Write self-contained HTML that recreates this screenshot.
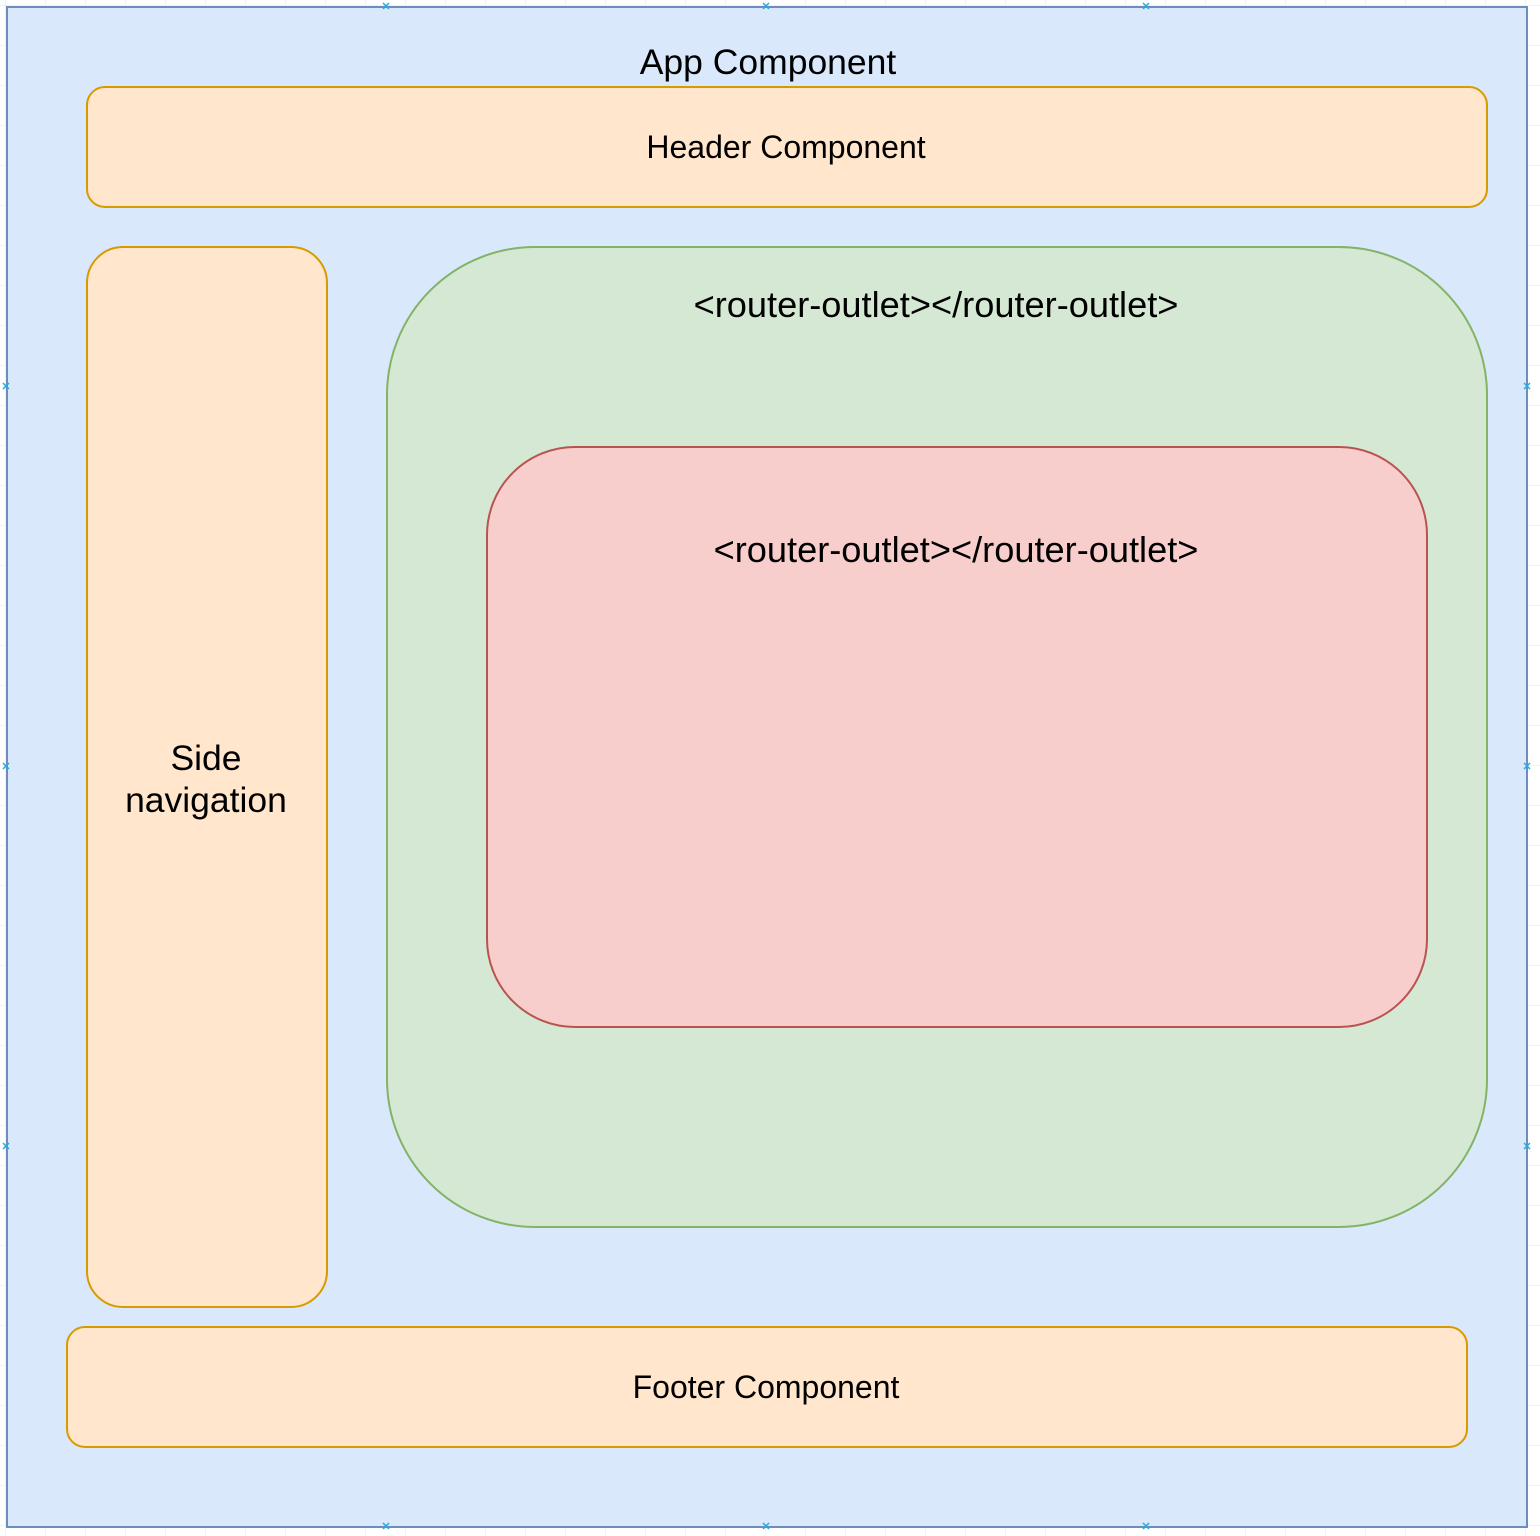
<!DOCTYPE html>
<html><head><meta charset="utf-8"><style>html,body{margin:0;padding:0;background:#fff}svg{display:block}</style></head>
<body>
<svg width="1540" height="1536" viewBox="0 0 1540 1536" xmlns="http://www.w3.org/2000/svg" font-family="Liberation Sans, Arial, sans-serif">
<defs><pattern id="g" width="40" height="40" patternUnits="userSpaceOnUse" x="6" y="6"><path d="M40 0V40M0 40H40" fill="none" stroke="#e4e4e4" stroke-width="1"/></pattern></defs>
<rect width="1540" height="1536" fill="#fff"/>
<rect width="1540" height="1536" fill="url(#g)"/>
<rect x="7" y="7" width="1520" height="1520" fill="#dae8fc" stroke="#6c8ebf" stroke-width="2"/>
<text x="768" y="74" font-size="35.5" text-anchor="middle" fill="#000">App Component</text>
<rect x="87" y="87" width="1400" height="120" rx="18" fill="#ffe6cc" stroke="#d79b00" stroke-width="2"/>
<text x="786" y="158" font-size="32" text-anchor="middle">Header Component</text>
<rect x="87" y="247" width="240" height="1060" rx="36" fill="#ffe6cc" stroke="#d79b00" stroke-width="2"/>
<text x="206" y="770" font-size="35.5" text-anchor="middle">Side</text>
<text x="206" y="812" font-size="35.5" text-anchor="middle">navigation</text>
<rect x="387" y="247" width="1100" height="980" rx="148" fill="#d5e8d4" stroke="#82b366" stroke-width="2"/>
<text x="936" y="317" font-size="36.2" text-anchor="middle">&lt;router-outlet&gt;&lt;/router-outlet&gt;</text>
<rect x="487" y="447" width="940" height="580" rx="88" fill="#f8cecc" stroke="#b85450" stroke-width="2"/>
<text x="956" y="562" font-size="36.2" text-anchor="middle">&lt;router-outlet&gt;&lt;/router-outlet&gt;</text>
<rect x="67" y="1327" width="1400" height="120" rx="18" fill="#ffe6cc" stroke="#d79b00" stroke-width="2"/>
<text x="766" y="1398" font-size="32" text-anchor="middle">Footer Component</text>
<g stroke="#29a8e0" stroke-width="1.5">
<path d="M383 3l6 6M389 3l-6 6M763 3l6 6M769 3l-6 6M1143 3l6 6M1149 3l-6 6"/>
<path d="M383 1523l6 6M389 1523l-6 6M763 1523l6 6M769 1523l-6 6M1143 1523l6 6M1149 1523l-6 6"/>
<path d="M3 383l6 6M9 383l-6 6M3 763l6 6M9 763l-6 6M3 1143l6 6M9 1143l-6 6"/>
<path d="M1524 383l6 6M1530 383l-6 6M1524 763l6 6M1530 763l-6 6M1524 1143l6 6M1530 1143l-6 6"/>
</g>
</svg>
</body></html>
